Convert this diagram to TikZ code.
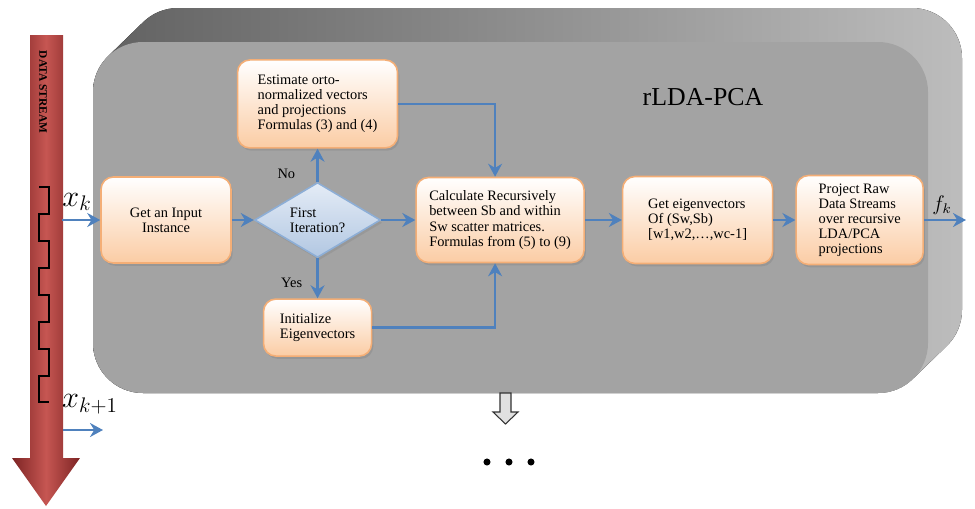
\documentclass[tikz,border=0pt]{standalone}
\usepackage{fontspec}
\setmainfont{Liberation Serif}
\usetikzlibrary{shapes.geometric, arrows.meta, positioning, shadows}

\definecolor{flowblue}{RGB}{79,129,189}
\definecolor{boxline}{RGB}{244,174,118}
\definecolor{boxfill}{RGB}{251,204,164}
\definecolor{diatop}{RGB}{228,236,246}
\definecolor{diafill}{RGB}{178,199,226}
\definecolor{dialine}{RGB}{141,174,214}
\definecolor{streamdark}{RGB}{125,36,36}
\definecolor{streamlight}{RGB}{198,86,82}
\definecolor{panelface}{RGB}{163,163,163}

\begin{document}
\begin{tikzpicture}[
    x=0.02cm, y=-0.02cm,
    font=\fontsize{8.2}{8.6}\selectfont,
    stepbox/.style={draw=boxline, line width=0.9pt, rectangle, rounded corners=7pt, top color=white, bottom color=boxfill, align=left, inner sep=2pt, drop shadow={shadow xshift=1pt, shadow yshift=-1.6pt, opacity=0.35}},
    decision/.style={draw=dialine, line width=0.9pt, diamond, aspect=1.68, inner sep=0pt, minimum width=2.52cm, minimum height=1.5cm, top color=diatop, bottom color=diafill, align=left, drop shadow={shadow xshift=1pt, shadow yshift=-1.6pt, opacity=0.3}},
    flow/.style={-{Stealth[length=2.6mm, width=2.8mm]}, draw=flowblue, line width=1.5pt},
    tag/.style={inner sep=0pt}
]
\useasboundingbox (0,0) rectangle (975,508);

% --- 3D panel ---
\fill[left color=black!62, middle color=black!45, right color=black!26]
    (128,8) [rounded corners=1cm] rectangle (962,360)
    (93,42) rectangle (928,393)
    [sharp corners] (143,92) -- (178,58) -- (143.2,22.1) -- (108.2,56.1) -- cycle
    (878,343) -- (912.8,378.9) -- (946.8,345.9) -- (912,310) -- cycle;
\fill[panelface, rounded corners=1cm] (93,42) rectangle (928,393);

\node[font=\fontsize{14.7}{15}\selectfont] (title) at (703,97) {rLDA-PCA};

% --- Data stream ---
\shade[left color=streamdark, right color=streamdark, middle color=streamlight]
    (30,35) -- (63,35) -- (63,458) -- (80,458) -- (46,506) -- (12,458) -- (30,458) -- cycle;
\node[rotate=-90, font=\fontsize{6.5}{7}\selectfont\bfseries] (streamlbl) at (43,92) {DATA STREAM};
\draw[line width=0.8pt] (39,187) -| (49,214) -| (39,241) -| (49,268) -| (39,295) -| (49,322) -| (39,349) -| (49,376) -| (39,402) -- (49,402);

% --- Nodos ---
\node[stepbox, align=center, minimum width=2.6cm, minimum height=1.72cm] (input) at (166,220) {Get an Input\\Instance};
\node[decision, right=0.44cm of input] (firstit) {First\\Iteration?};
\node[stepbox, minimum width=3.2cm, minimum height=1.76cm, above=0.66cm of firstit] (estim) {Estimate orto-\\normalized vectors\\and projections\\Formulas (3) and (4)};
\node[stepbox, minimum width=2.16cm, minimum height=1.14cm, below=0.8cm of firstit] (initeig) {Initialize\\Eigenvectors};
\node[stepbox, minimum width=3.36cm, minimum height=1.7cm, right=0.68cm of firstit] (recur) {Calculate Recursively\\between Sb and within\\Sw scatter matrices.\\Formulas from (5) to (9)};
\node[stepbox, minimum width=3cm, minimum height=1.74cm, right=0.74cm of recur] (eigvec) {Get eigenvectors\\Of (Sw,Sb)\\{[}w1,w2,…,wc-1{]}};
\node[stepbox, minimum width=2.54cm, minimum height=1.78cm, right=0.44cm of eigvec] (project) {Project Raw\\Data Streams\\over recursive\\LDA/PCA\\projections};

% --- Etiquetas ---
\node[font=\fontsize{18}{18}\selectfont] (xk) at (77,202) {$x_k$};
\node[font=\fontsize{18}{18}\selectfont] (xknext) at (90,404) {$x_{k+1}$};
\node[font=\fontsize{12}{12}\selectfont] (fk) at (942,205) {$f_k$};

% --- Conexiones ---
\coordinate (xkin) at (62,220);
\coordinate (xknextin) at (63,430);
\coordinate (xknextout) at (103,430);
\coordinate (fkout) at (966,220);

\draw[flow] (xkin) -- (input);
\draw[flow] (input) -- (firstit);
\draw[flow] (firstit) -- (recur);
\draw[flow] (firstit) -- (estim) node[tag, pos=0.25, left=12pt] {No};
\draw[flow] (firstit) -- (initeig) node[tag, pos=0.62, left=8pt] {Yes};
\draw[flow] (estim.east) -| ([xshift=-0.1cm]recur.north);
\draw[flow] (initeig.east) -| ([xshift=-0.1cm]recur.south);
\draw[flow] (recur) -- (eigvec);
\draw[flow] (eigvec) -- (project);
\draw[flow] (project) -- (fkout);
\draw[flow] (xknextin) -- (xknextout);

% --- Siguiente paso ---
\filldraw[fill=black!12, draw=black!80, line width=0.6pt]
    (500,393) -- (511,393) -- (511,412) -- (518,412) -- (505.5,424) -- (493,412) -- (500,412) -- cycle;
\fill (487,462) circle[radius=2pt] (509,462) circle[radius=2pt] (531,462) circle[radius=2pt];

\end{tikzpicture}
\end{document}
